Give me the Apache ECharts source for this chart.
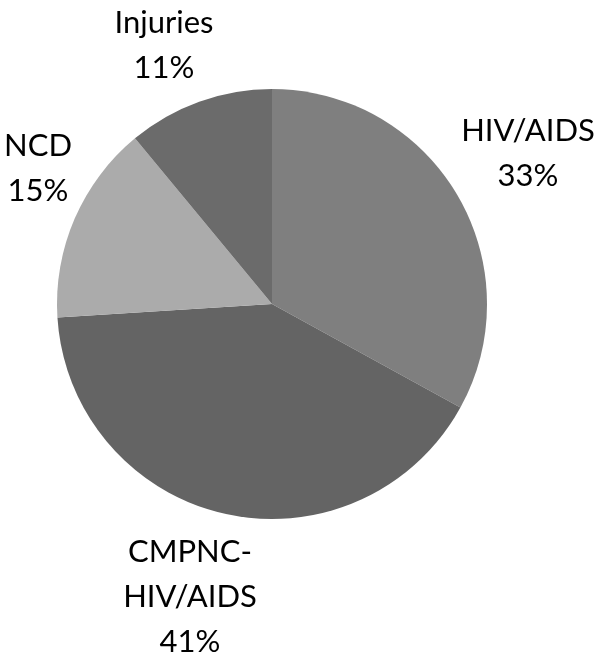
<!DOCTYPE html>
<html>
<head>
<meta charset="utf-8">
<script src="https://cdn.jsdelivr.net/npm/echarts@6/dist/echarts.min.js"></script>
<style>html,body{margin:0;padding:0;background:#fff}#c{width:601px;height:662px}</style>
</head>
<body>
<div id="c"></div>
<script>
const categories = ['HIV/AIDS', 'CMPNC-\nHIV/AIDS', 'NCD', 'Injuries'];
const values = [33, 41, 15, 11];
const colors = ['#7f7f7f', '#646464', '#ababab', '#6b6b6b'];
const labelPos = [[528, 153], [190, 597], [38, 168], [164, 45]];

const chart = echarts.init(document.getElementById('c'), null, {renderer: 'canvas'});
chart.setOption({
  animation: false,
  series: [{
    type: 'pie',
    center: [272, 304],
    radius: [0, 215],
    startAngle: 90,
    clockwise: true,
    data: categories.map((c, i) => ({name: c, value: values[i], itemStyle: {color: colors[i]}})),
    itemStyle: {borderWidth: 0},
    label: {
      show: true,
      position: 'outside',
      formatter: p => p.name + '\n' + p.value + '%',
      fontFamily: 'Lato',
      fontSize: 31,
      lineHeight: 45,
      color: '#000',
      align: 'center',
      overflow: 'none',
      width: 200
    },
    labelLine: {show: false},
    labelLayout: p => ({
      x: labelPos[p.dataIndex][0],
      y: labelPos[p.dataIndex][1],
      align: 'center',
      verticalAlign: 'middle'
    })
  }]
});
</script>
</body>
</html>
